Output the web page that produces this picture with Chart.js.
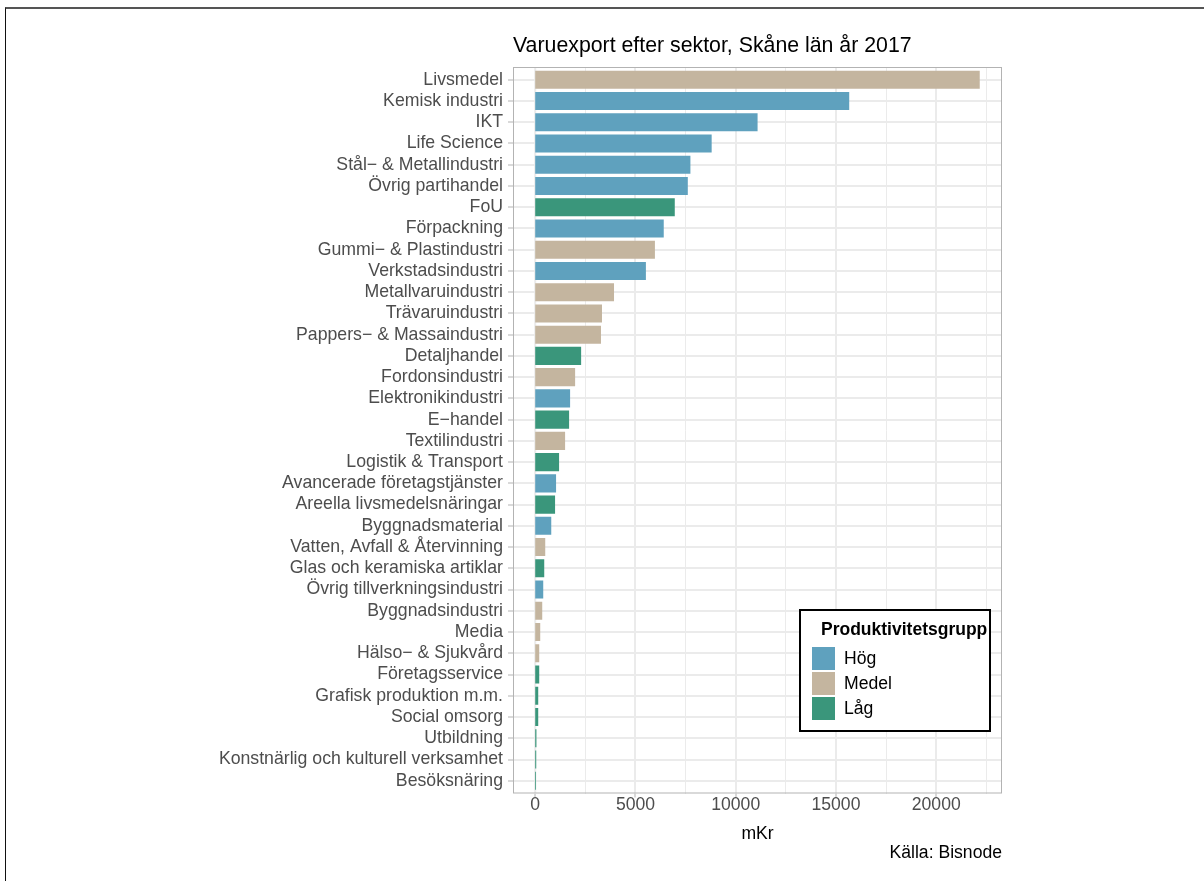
<!DOCTYPE html>
<html><head><meta charset="utf-8">
<script src="https://cdn.jsdelivr.net/npm/chart.js@4/dist/chart.umd.min.js"></script>
<style>
html,body{margin:0;padding:0;background:#fff;}
#wrap{position:relative;width:1204px;height:881px;overflow:hidden;background:#fff;}
#frame{position:absolute;left:5px;top:7px;width:1400px;height:1000px;border-top:2px solid #555;border-left:1px solid #111;}
canvas{position:absolute;left:0;top:0;}
</style></head><body>
<div id="wrap"><div id="frame"></div><canvas id="c" width="1204" height="881"></canvas></div>
<script>
const categories = ['Livsmedel','Kemisk industri','IKT','Life Science','Stål\u2212 & Metallindustri','Övrig partihandel','FoU','Förpackning','Gummi\u2212 & Plastindustri','Verkstadsindustri','Metallvaruindustri','Trävaruindustri','Pappers\u2212 & Massaindustri','Detaljhandel','Fordonsindustri','Elektronikindustri','E\u2212handel','Textilindustri','Logistik & Transport','Avancerade företagstjänster','Areella livsmedelsnäringar','Byggnadsmaterial','Vatten, Avfall & Återvinning','Glas och keramiska artiklar','Övrig tillverkningsindustri','Byggnadsindustri','Media','Hälso\u2212 & Sjukvård','Företagsservice','Grafisk produktion m.m.','Social omsorg','Utbildning','Konstnärlig och kulturell verksamhet','Besöksnäring'];
const values = [22170,15660,11090,8800,7740,7610,6960,6410,5970,5520,3930,3330,3280,2290,1990,1740,1690,1490,1190,1040,990,800,500,450,400,350,250,200,200,150,150,60,50,40];
const groups = ['Medel','Hög','Hög','Hög','Hög','Hög','Låg','Hög','Medel','Hög','Medel','Medel','Medel','Låg','Medel','Hög','Låg','Medel','Låg','Hög','Låg','Hög','Medel','Låg','Hög','Medel','Medel','Medel','Låg','Låg','Låg','Låg','Låg','Låg'];
const groupNames = ['Hög','Medel','Låg'];
const groupColors = ['#5FA1BE','#C4B59F','#3A967B'];
const xMajorTicks = [0,5000,10000,15000,20000];
const xMinorTicks = [2500,7500,12500,17500,22500];
const chartTitle = 'Varuexport efter sektor, Skåne län år 2017';
const xTitle = 'mKr';
const captionText = 'Källa: Bisnode';
const legendTitle = 'Produktivitetsgrupp';

const FONT = '"Liberation Sans", Arial, Helvetica, sans-serif';
const GRID = '#ebebeb';

const datasets = groupNames.map((g, gi) => ({
  label: g,
  backgroundColor: groupColors[gi],
  borderWidth: 0,
  inflateAmount: 0,
  grouped: false,
  barPercentage: 0.85,
  categoryPercentage: 1,
  data: categories.map((c, i) => groups[i] === g ? {x: values[i], y: i} : null).filter(d => d)
}));

const decor = {
  id: 'decor',
  beforeDatasetsDraw(chart) {
    // zero gridline drawn here so bars start exactly at the zero value
    const ctx = chart.ctx, a = chart.chartArea;
    const x0 = chart.scales.x.getPixelForValue(0);
    ctx.save();
    ctx.strokeStyle = GRID;
    ctx.lineWidth = 2;
    ctx.beginPath();
    ctx.moveTo(x0, a.top);
    ctx.lineTo(x0, a.bottom);
    ctx.stroke();
    ctx.restore();
  },
  afterDraw(chart) {
    const ctx = chart.ctx, a = chart.chartArea;
    ctx.save();
    ctx.strokeStyle = '#b3b3b3';
    ctx.lineWidth = 1;
    ctx.strokeRect(a.left + 0.5, a.top + 0.5, a.right - a.left - 1, a.bottom - a.top - 1);
    // title
    ctx.fillStyle = '#000';
    ctx.textAlign = 'left';
    ctx.textBaseline = 'alphabetic';
    ctx.font = '21.3px ' + FONT;
    ctx.fillText(chartTitle, a.left, 52);
    // caption
    ctx.font = '17.6px ' + FONT;
    ctx.textAlign = 'right';
    ctx.fillText(captionText, a.right, 858);
    // legend
    const lx = 800, ly = 610, lw = 190, lh = 121;
    ctx.fillStyle = '#fff';
    ctx.fillRect(lx, ly, lw, lh);
    ctx.strokeStyle = '#000';
    ctx.lineWidth = 2;
    ctx.strokeRect(lx, ly, lw, lh);
    ctx.fillStyle = '#000';
    ctx.textAlign = 'left';
    ctx.font = 'bold 17.5px ' + FONT;
    ctx.fillText(legendTitle, 821, 635);
    ctx.font = '17.6px ' + FONT;
    ctx.textBaseline = 'middle';
    chart.data.datasets.forEach((ds, i) => {
      const ky = 647 + i * 25;
      ctx.fillStyle = ds.backgroundColor;
      ctx.fillRect(812, ky, 23, 23);
      ctx.fillStyle = '#000';
      ctx.fillText(ds.label, 844, ky + 12.5);
    });
    ctx.restore();
  }
};

new Chart(document.getElementById('c'), {
  type: 'bar',
  data: {datasets},
  plugins: [decor],
  options: {
    indexAxis: 'y',
    responsive: false,
    animation: false,
    devicePixelRatio: 1,
    layout: {padding: {left: 0, top: 67, right: 202, bottom: 36}},
    plugins: {legend: {display: false}, title: {display: false}, tooltip: {enabled: false}},
    scales: {
      x: {
        type: 'linear',
        position: 'bottom',
        min: -1108,
        max: 23280,
        afterBuildTicks: s => {
          s.ticks = xMajorTicks.concat(xMinorTicks).sort((p, q) => p - q).map(v => ({value: v}));
        },
        afterFit: s => { s.height = 845 - 793.5; },
        ticks: {
          autoSkip: false, maxRotation: 0, padding: -3,
          color: '#4d4d4d',
          font: {family: FONT, size: 17.6},
          callback: v => xMajorTicks.includes(v) ? String(v) : ''
        },
        grid: {
          color: GRID,
          lineWidth: c => {
            if (!c.tick) return 1;
            if (c.tick.value === 0) return 0;
            return xMajorTicks.includes(c.tick.value) ? 2 : 1;
          },
          tickColor: c => (c.tick && xMajorTicks.includes(c.tick.value)) ? '#b3b3b3' : 'rgba(0,0,0,0)',
          tickLength: 4,
          tickWidth: 1
        },
        border: {display: false},
        title: {display: true, text: xTitle, color: '#000', font: {family: FONT, size: 17.6}, padding: {top: 0, bottom: 0}}
      },
      y: {
        type: 'linear',
        reverse: true,
        offset: false,
        min: -0.6,
        max: categories.length - 0.4,
        afterBuildTicks: s => { s.ticks = categories.map((c, i) => ({value: i})); },
        afterFit: s => { s.width = 513; },
        ticks: {
          autoSkip: false, padding: 5,
          color: '#4d4d4d',
          font: {family: FONT, size: 17.7},
          callback: v => categories[v]
        },
        grid: {color: GRID, lineWidth: 2, tickColor: '#b3b3b3', tickLength: 5, tickWidth: 1, offset: false},
        border: {display: false}
      }
    }
  }
});
</script>
</body></html>
